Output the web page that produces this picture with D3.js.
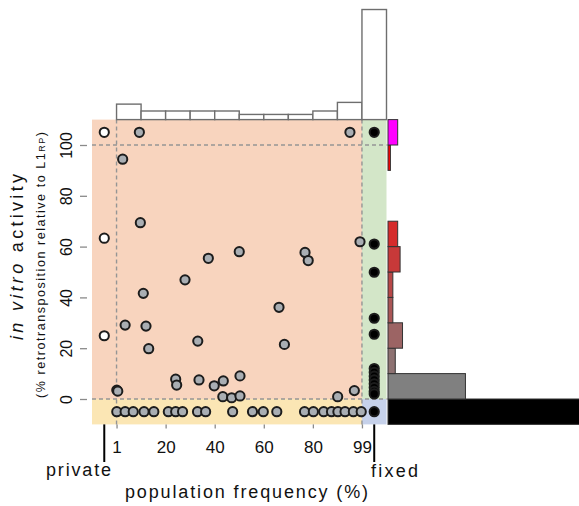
<!DOCTYPE html>
<html>
<head>
<meta charset="utf-8">
<script src="https://cdn.jsdelivr.net/npm/d3@7"></script>
<style>
  html, body { margin: 0; padding: 0; background: #fff; }
  svg { display: block; }
  text { font-family: "Liberation Sans", Arial, sans-serif; fill: #111; }
</style>
</head>
<body>
<svg id="chart" width="579" height="506"></svg>
<script>
// ---------- data (x: 0 = 1%, 100 = 99%; -5 = private, 105 = fixed; y: -5 = no activity, 105 = >100) ----------
const segFreq = [9.3, 95.1, 2.5, 9.7, 99.2, 37.4, 50.0, 76.8, 78.1, 27.9, 10.9, 3.5, 12.0, 13.1, 33.1, 66.2, 68.4,
                 0.1, 0.5, 24.1, 24.5, 33.6, 39.8, 43.5, 43.3, 46.9, 50.3, 50.3, 90.1, 96.9];
const segActivity = [105, 105, 94.4, 69.4, 61.9, 55.4, 58.0, 57.7, 54.5, 46.9, 41.6, 29.1, 28.7, 19.8, 22.8, 36.1, 21.5,
                     3.5, 3.1, 7.8, 5.5, 7.5, 5.2, 7.1, 0.9, 0.5, 1.2, 9.1, 0.9, 3.3];
const inactiveFreq = [0.1, 3.5, 6.8, 11.2, 15.2, 21.1, 24.1, 26.9, 33.0, 36.3, 47.3, 55.4, 59.8, 65.3,
                      76.6, 80.2, 84.4, 87.6, 90.2, 93.1, 96.5, 99.7];
const privateActivity = [105, 63.3, 24.9];
const fixedActivity = [105, 61, 49.9, 31.8, 25.5, 12, 10.5, 9, 7.5, 6, 4.5, 3, 2, -5];

const freqBins = [0, 10, 20, 30, 40, 50, 60, 70, 80, 90, 100];      // bin starts (width 10)
const freqCounts = [9, 5, 5, 5, 5, 3, 3, 3, 5, 10, 64];
const actBins = [-10, 0, 10, 20, 30, 40, 50, 60, 70, 80, 90, 100];  // bin starts (width 10)
const actCounts = [90, 32, 3, 6, 2, 2, 5, 4, 0, 0, 1, 4];

const yTicks = [0, 20, 40, 60, 80, 100];
const xTickVals = [0, 20, 40, 60, 80, 100];
const xTickLabels = ["1", "20", "40", "60", "80", "99"];
const extraXVals = [-5, 105];
const extraXLabels = ["private", "fixed"];

// ---------- layout ----------
const svg = d3.select("#chart");
const x = d3.scaleLinear().domain([-10, 110]).range([92, 386.5]);
const y = d3.scaleLinear().domain([-10, 110]).range([424.4, 119.6]);
const topH = d3.scaleLinear().domain([0, 1]).range([119.6, 119.6 - 1.72]);
const rightW = d3.scaleLinear().domain([0, 1]).range([388, 388 + 2.42]);

// background panels
const panels = [
  {x0: -10, x1: 100, y0: 0, y1: 110, c: "#F8D4BE"},
  {x0: 100, x1: 110, y0: 0, y1: 110, c: "#D3E6C8"},
  {x0: -10, x1: 100, y0: -10, y1: 0, c: "#FBE6B4"},
  {x0: 100, x1: 110, y0: -10, y1: 0, c: "#C6D1EA"}
];
svg.append("g").selectAll("rect").data(panels).join("rect")
  .attr("x", d => x(d.x0)).attr("width", d => x(d.x1) - x(d.x0))
  .attr("y", d => y(d.y1)).attr("height", d => y(d.y0) - y(d.y1))
  .attr("fill", d => d.c);

// dashed guide lines
const guides = svg.append("g").attr("stroke", "#959595").attr("stroke-width", 1.4).attr("stroke-dasharray", "4,3");
[0, 100].forEach(v => {
  guides.append("line").attr("x1", x(-10)).attr("x2", x(110)).attr("y1", y(v)).attr("y2", y(v));
  guides.append("line").attr("x1", x(v)).attr("x2", x(v)).attr("y1", y(-10)).attr("y2", y(110));
});

// top histogram
svg.append("g").selectAll("rect").data(freqBins).join("rect")
  .attr("x", d => x(d)).attr("width", d => x(d + 10) - x(d))
  .attr("y", (d, i) => topH(freqCounts[i])).attr("height", (d, i) => topH(0) - topH(freqCounts[i]))
  .attr("fill", "#fff").attr("stroke", "#6e6e6e").attr("stroke-width", 1.4);

// right histogram
const ramp = d3.interpolateRgb("#808080", "#ff0000");
const binColor = d => d < 0 ? "#000" : (d >= 100 ? "#ff00ff" : ramp(Math.min(1, d / 90)));
svg.append("g").selectAll("rect").data(actBins).join("rect")
  .attr("y", d => y(d + 10)).attr("height", d => y(d) - y(d + 10))
  .attr("x", rightW(0)).attr("width", (d, i) => rightW(actCounts[i]) - rightW(0))
  .attr("fill", binColor)
  .attr("stroke", (d, i) => actCounts[i] > 0 ? "#333" : "none").attr("stroke-width", 1);

// points
const pts = svg.append("g").attr("stroke", "#1c1c1c").attr("stroke-width", 2);
pts.selectAll("circle.inact").data(inactiveFreq).join("circle").attr("class", "inact")
  .attr("cx", d => x(d)).attr("cy", y(-5)).attr("r", 4.6).attr("fill", "#a9aeb3");
pts.selectAll("circle.seg").data(segFreq).join("circle").attr("class", "seg")
  .attr("cx", d => x(d)).attr("cy", (d, i) => y(segActivity[i])).attr("r", 4.6).attr("fill", "#a9aeb3");
pts.selectAll("circle.priv").data(privateActivity).join("circle").attr("class", "priv")
  .attr("cx", x(-5)).attr("cy", d => y(d)).attr("r", 4.6).attr("fill", "#ffffff");
pts.selectAll("circle.fix").data(fixedActivity).join("circle").attr("class", "fix")
  .attr("cx", x(105)).attr("cy", d => y(d)).attr("r", 4.6).attr("fill", "#000");

// y axis
const yAxis = svg.append("g").attr("transform", "translate(87,0)")
  .call(d3.axisLeft(y).tickValues(yTicks).tickSize(7));
yAxis.select(".domain").remove();
yAxis.selectAll(".tick line").attr("stroke", "#8a8a8a").attr("stroke-width", 1.3);
yAxis.selectAll(".tick text")
  .attr("x", 0).attr("y", -15).attr("dy", 0)
  .attr("transform", "rotate(-90)")
  .attr("text-anchor", "middle")
  .attr("font-size", 16).attr("font-family", "Liberation Sans, Arial, sans-serif").attr("fill", "#111");

// x axis
const xAxis = svg.append("g").attr("transform", `translate(0,${y(-10)})`)
  .call(d3.axisBottom(x).tickValues(xTickVals).tickFormat((d, i) => xTickLabels[i]).tickSize(4));
xAxis.select(".domain").remove();
xAxis.selectAll(".tick line").attr("stroke", "#8a8a8a").attr("stroke-width", 1.3);
xAxis.selectAll(".tick text")
  .attr("y", 29).attr("dy", 0)
  .attr("font-size", 17).attr("font-family", "Liberation Sans, Arial, sans-serif").attr("fill", "#111");

// private / fixed markers
const extra = svg.append("g");
extra.selectAll("line").data(extraXVals).join("line")
  .attr("x1", d => x(d)).attr("x2", d => x(d)).attr("y1", y(-10)).attr("y2", 462)
  .attr("stroke", "#000").attr("stroke-width", 2);
extra.append("text").attr("x", 111).attr("y", 476).attr("text-anchor", "end")
  .attr("font-size", 18).attr("textLength", 65).attr("lengthAdjust", "spacing").text(extraXLabels[0]);
extra.append("text").attr("x", 371).attr("y", 477).attr("text-anchor", "start")
  .attr("font-size", 18).attr("textLength", 47).attr("lengthAdjust", "spacing").text(extraXLabels[1]);

// x title
svg.append("text").attr("x", 246.5).attr("y", 498).attr("text-anchor", "middle")
  .attr("font-size", 18).attr("textLength", 243).attr("lengthAdjust", "spacing")
  .text("population frequency  (%)");

// y titles
const yt = svg.append("text").attr("transform", "translate(23,257) rotate(-90)")
  .attr("text-anchor", "middle").attr("font-size", 18)
  .attr("textLength", 166).attr("lengthAdjust", "spacing");
yt.append("tspan").attr("font-style", "italic").text("in vitro");
yt.append("tspan").text(" activity");

const ys = svg.append("text").attr("transform", "translate(45,265) rotate(-90)")
  .attr("text-anchor", "middle").attr("font-size", 12.5)
  .attr("textLength", 266).attr("lengthAdjust", "spacing");
ys.append("tspan").text("(% retrotransposition relative to L1");
ys.append("tspan").attr("font-size", 9).text("RP");
ys.append("tspan").text(")");
</script>
</body>
</html>
